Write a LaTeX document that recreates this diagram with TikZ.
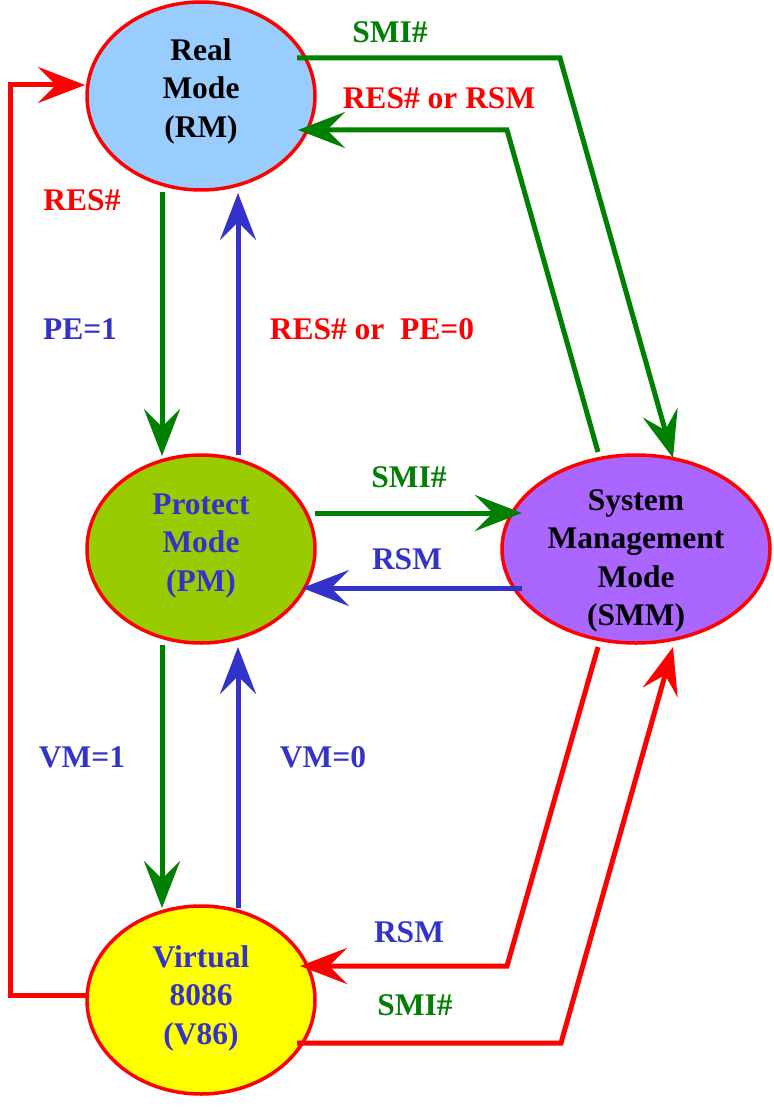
\documentclass[tikz,border=0pt]{standalone}
\usepackage{fontspec}
\setmainfont{Liberation Serif}
\usetikzlibrary{shapes.geometric,arrows.meta,calc}
\definecolor{cred}{HTML}{FF0000}
\definecolor{cgreen}{HTML}{008000}
\definecolor{cblue}{HTML}{3333CC}
\definecolor{fblue}{HTML}{99CCFF}
\definecolor{fgreen}{HTML}{99CC00}
\definecolor{fpurple}{HTML}{AA66FF}
\definecolor{fyellow}{HTML}{FFFF00}
\tikzset{
  statebox/.style={ellipse, draw=cred, line width=3.5pt, inner sep=0pt,
    minimum width=228pt, minimum height=188pt},
  txt/.style={font=\fontsize{31.5}{38.5}\selectfont\bfseries, align=center, inner sep=0pt},
  conn/.style={line width=5pt, miter limit=20, -{Stealth[length=47pt,width=36pt,inset=18pt]}},
}
\begin{document}
\begin{tikzpicture}[x=1pt,y=-1pt]
\useasboundingbox (0,0) rectangle (773,1110);
% states
\node[statebox, fill=fblue] (rm) at (201,96) {};
\node[statebox, fill=fgreen] (pm) at (201,549) {};
\node[statebox, fill=fpurple, minimum width=268pt] (smm) at (636,549) {};
\node[statebox, fill=fyellow] (v86) at (201,1000) {};
\node[txt, text=black] (rmt) at ($(rm)+(0,-5)$) {Real\\Mode\\(RM)};
\node[txt, text=cblue] (pmt) at ($(pm)+(0,-3)$) {Protect\\Mode\\(PM)};
\node[txt, text=black] (smmt) at ($(smm)+(0,12)$) {System\\Management\\Mode\\(SMM)};
\node[txt, text=cblue] (v86t) at ($(v86)+(0,-2)$) {Virtual\\8086\\(V86)};
% bend points
\coordinate (b1) at (560,58);
\coordinate (b2) at (507,130);
\coordinate (b3) at (507,966);
\coordinate (b4) at (561,1043);
\coordinate (b5) at (10,995);
\coordinate (b6) at (10,85);
% connectors
\draw[conn, cgreen] ($(rm)+(96,-38)$) -- (b1) -- ($(smm)+(37,-91)$);
\draw[conn, cgreen] ($(smm)+(-38,-97)$) -- (b2) -- ($(rm)+(97,34)$);
\draw[conn, cgreen] ($(rm)+(-39,96)$) -- ($(pm)+(-39,-93)$);
\draw[conn, cblue] ($(pm)+(37,-94)$) -- ($(rm)+(37,97)$);
\draw[conn, cgreen] ($(pm)+(114,-36)$) -- ($(smm)+(-114,-36)$);
\draw[conn, cblue] ($(smm)+(-114,39)$) -- ($(pm)+(101,39)$);
\draw[conn, cgreen] ($(pm)+(-39,96)$) -- ($(v86)+(-39,-92)$);
\draw[conn, cblue] ($(v86)+(37,-92)$) -- ($(pm)+(37,98)$);
\draw[conn, cred] ($(smm)+(-38,98)$) -- (b3) -- ($(v86)+(99,-34)$);
\draw[conn, cred] ($(v86)+(96,43)$) -- (b4) -- ($(smm)+(37,98)$);
\draw[conn, cred] ($(v86)+(-114,-5)$) -- (b5) -- (b6) -- ($(rm)+(-116,-11)$);
% labels
\node[txt, text=cgreen] (l1) at (390,32) {SMI\#};
\node[txt, text=cred] (l2) at (439,98) {RES\# or RSM};
\node[txt, text=cred] (l3) at (82,200) {RES\#};
\node[txt, text=cblue] (l4) at (80,329) {PE=1};
\node[txt, text=cred] (l5) at (372,329) {RES\# or\ \ PE=0};
\node[txt, text=cgreen] (l6) at (409,477) {SMI\#};
\node[txt, text=cblue] (l7) at (407,559) {RSM};
\node[txt, text=cblue] (l8) at (82,757) {VM=1};
\node[txt, text=cblue] (l9) at (323,757) {VM=0};
\node[txt, text=cblue] (l10) at (409,932) {RSM};
\node[txt, text=cgreen] (l11) at (415,1005) {SMI\#};
\end{tikzpicture}
\end{document}
